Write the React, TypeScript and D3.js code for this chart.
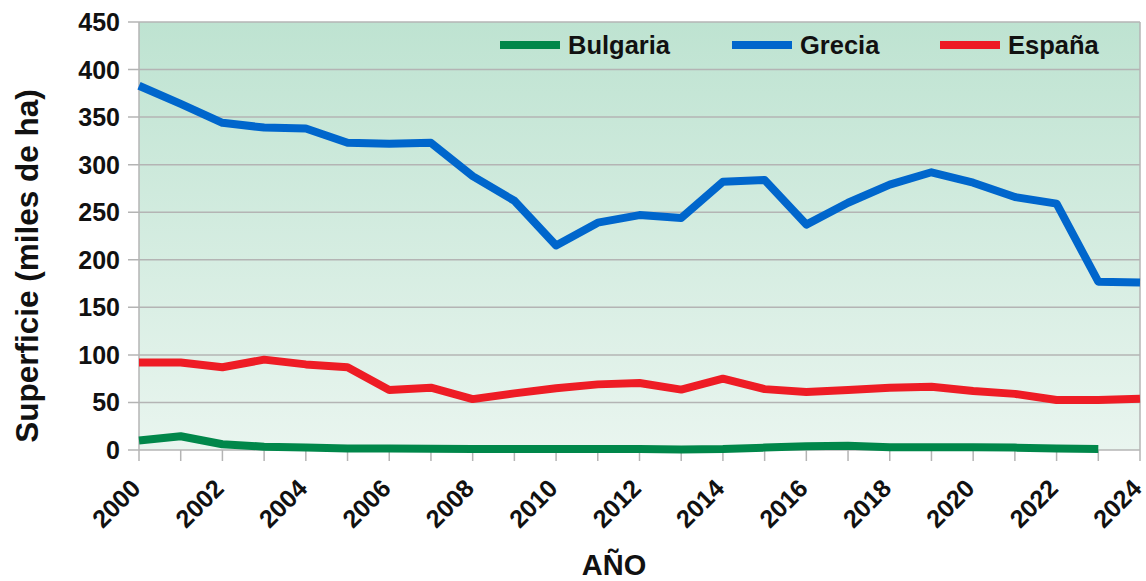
import React from "react";
import * as d3 from "d3";

const years = d3.range(2000, 2025);
const grecia = [383, 364, 344, 339, 338, 323, 322, 323, 288, 262, 215, 239, 247, 244, 282, 284, 237, 260, 279, 292, 281, 266, 259, 177, 176];
const espana = [92, 92, 87, 95, 90, 87, 63, 65.5, 53.5, 59.5, 65, 69, 70.5, 63.5, 75, 64, 61, 63, 65.5, 66.5, 62, 59, 52.5, 52.5, 54];
const bulgaria = [10, 14.5, 6, 3.5, 2.5, 1.5, 1.5, 1.2, 1, 1, 1, 1, 1, 0.5, 1, 2.5, 4, 4.5, 3, 3, 3, 2.5, 1.5, 1];
const yTicks = [0, 50, 100, 150, 200, 250, 300, 350, 400, 450];
const xTickYears = [2000, 2002, 2004, 2006, 2008, 2010, 2012, 2014, 2016, 2018, 2020, 2022, 2024];

const series = [
  { name: "Bulgaria", values: bulgaria, color: "#00874a", lx: 500 },
  { name: "Grecia", values: grecia, color: "#0066cc", lx: 732 },
  { name: "España", values: espana, color: "#ee1c25", lx: 940 },
];

const W = 1146, H = 581;
const L = 139, R = 1140, T = 22, B = 450;

export default function App() {
  const x = d3.scaleLinear().domain([2000, 2024]).range([L, R]);
  const y = d3.scaleLinear().domain([0, 450]).range([B, T]);
  const line = d3.line<number>().x((_, i) => x(2000 + i)).y((d) => y(d));
  const font = "'Liberation Sans', Arial, sans-serif";
  return (
    <svg width={W} height={H} style={{ position: "absolute", left: 0, top: 0 }} fontFamily={font}>
      <defs>
        <linearGradient id="bg" x1="0" y1="0" x2="0" y2="1">
          <stop offset="0" stopColor="#bee3d1" />
          <stop offset="1" stopColor="#e9f5ef" />
        </linearGradient>
      </defs>
      <rect x={0} y={0} width={W} height={H} fill="#fff" />
      <rect x={L} y={T} width={R - L} height={B - T} fill="url(#bg)" />
      {yTicks.map((t) => (
        <g key={t}>
          <line x1={L - 11} x2={R} y1={y(t)} y2={y(t)} stroke="#b4b4b4" strokeWidth={1.5} />
          <text x={120} y={y(t)} dy="0.36em" textAnchor="end" fontSize={25} fontWeight="bold" fill="#111">{t}</text>
        </g>
      ))}
      <line x1={L} x2={L} y1={T} y2={B} stroke="#b4b4b4" strokeWidth={1.5} />
      <line x1={R} x2={R} y1={T} y2={B} stroke="#b4b4b4" strokeWidth={1.5} />
      {years.map((yr) => (
        <line key={yr} x1={x(yr)} x2={x(yr)} y1={B} y2={B + 11} stroke="#b4b4b4" strokeWidth={1.5} />
      ))}
      {xTickYears.map((yr) => (
        <text key={yr} transform={`translate(${x(yr) + 3},${B + 40}) rotate(-45)`} textAnchor="end" fontSize={25} fontWeight="bold" fill="#111">{yr}</text>
      ))}
      {series.map((s) => (
        <path key={s.name} d={line(s.values) || ""} fill="none" stroke={s.color} strokeWidth={8} strokeLinejoin="round" />
      ))}
      {series.map((s) => (
        <g key={s.name + "l"}>
          <line x1={s.lx} x2={s.lx + 60} y1={45} y2={45} stroke={s.color} strokeWidth={8} />
          <text x={s.lx + 68} y={54} fontSize={25.5} fontWeight="bold" fill="#111">{s.name}</text>
        </g>
      ))}
      <text transform={`translate(38,266) rotate(-90)`} textAnchor="middle" fontSize={31.5} fontWeight="bold" fill="#111">Superficie (miles de ha)</text>
      <text x={614} y={575} textAnchor="middle" fontSize={29} fontWeight="bold" fill="#111">AÑO</text>
    </svg>
  );
}
